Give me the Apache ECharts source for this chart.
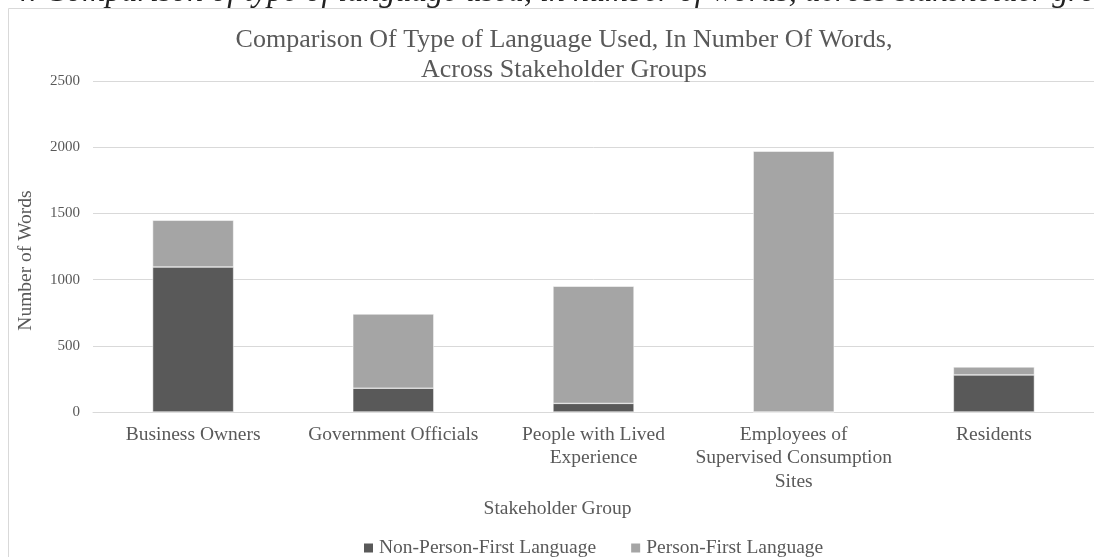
<!DOCTYPE html>
<html>
<head>
<meta charset="utf-8">
<script src="https://cdn.jsdelivr.net/npm/echarts@6/dist/echarts.min.js"></script>
<style>
html,body{margin:0;padding:0;background:#fff;}
#chart{width:1094px;height:557px;}
</style>
</head>
<body>
<div id="chart"></div>
<script>
const categories = ['Business Owners', 'Government Officials', 'People with Lived\nExperience', 'Employees of\nSupervised Consumption\nSites', 'Residents'];
const nonPersonFirst = [1095, 180, 65, 0, 280];
const personFirst = [353, 560, 885, 1970, 60];
const yTicks = [0, 500, 1000, 1500, 2000, 2500];
const seriesNames = ['Non-Person-First Language', 'Person-First Language'];

const FONT = "'Liberation Serif', 'Times New Roman', serif";
const TXT = '#595959';
const chart = echarts.init(document.getElementById('chart'));
chart.setOption({
  animation: false,
  backgroundColor: '#fff',
  textStyle: { fontFamily: FONT },
  graphic: [
    { type: 'rect', silent: true, shape: { x: 8.5, y: 8.5, width: 1120, height: 600 },
      style: { fill: null, stroke: '#d9d9d9', lineWidth: 1 } },
    { type: 'text', silent: true, x: 13, y: 9,
      style: { text: '4. Comparison of type of language used, in number of words, across stakeholder groups',
               font: "italic 32px 'Liberation Serif'", fill: '#222', verticalAlign: 'bottom', align: 'left' } }
  ],
  title: {
    text: 'Comparison Of Type of Language Used, In Number Of Words,\nAcross Stakeholder Groups',
    left: 559, textAlign: 'center', top: 20,
    textStyle: { fontFamily: FONT, fontWeight: 'normal', fontSize: 26, lineHeight: 30, color: TXT }
  },
  legend: {
    data: seriesNames, left: 357, top: 533, itemWidth: 11, itemHeight: 11, itemGap: 33,
    icon: 'rect',
    textStyle: { fontFamily: FONT, fontSize: 19.5, color: TXT }
  },
  grid: { left: 93, top: 81, width: 1005, height: 331, containLabel: false },
  xAxis: {
    type: 'category', data: categories,
    name: 'Stakeholder Group', nameLocation: 'middle', nameGap: 73,
    nameTextStyle: { fontFamily: FONT, fontSize: 19.5, color: TXT, padding: [0, 72, 0, 0] },
    axisLine: { lineStyle: { color: '#d9d9d9', width: 1 } },
    axisTick: { show: false },
    axisLabel: { interval: 0, fontFamily: FONT, fontSize: 19.5, lineHeight: 23.5, color: TXT, margin: 11 }
  },
  yAxis: {
    type: 'value', min: 0, max: 2500, interval: 500,
    name: 'Number of Words', nameLocation: 'middle', nameGap: 57, nameRotate: 90,
    nameTextStyle: { fontFamily: FONT, fontSize: 19.5, color: TXT, padding: [0, 28, 0, 0] },
    axisLine: { show: false }, axisTick: { show: false },
    axisLabel: { fontFamily: FONT, fontSize: 15, color: TXT, margin: 13,
                 formatter: v => yTicks.includes(v) ? String(v) : '' },
    splitLine: { lineStyle: { color: '#d9d9d9', width: 1 } }
  },
  series: [
    { name: seriesNames[0], type: 'bar', stack: 'total', data: nonPersonFirst, barWidth: 81,
      itemStyle: { color: '#595959', borderColor: '#ffffff', borderWidth: 0.5 } },
    { name: seriesNames[1], type: 'bar', stack: 'total', data: personFirst, barWidth: 81,
      itemStyle: { color: '#a5a5a5', borderColor: '#ffffff', borderWidth: 0.5 } }
  ]
});
</script>
</body>
</html>
